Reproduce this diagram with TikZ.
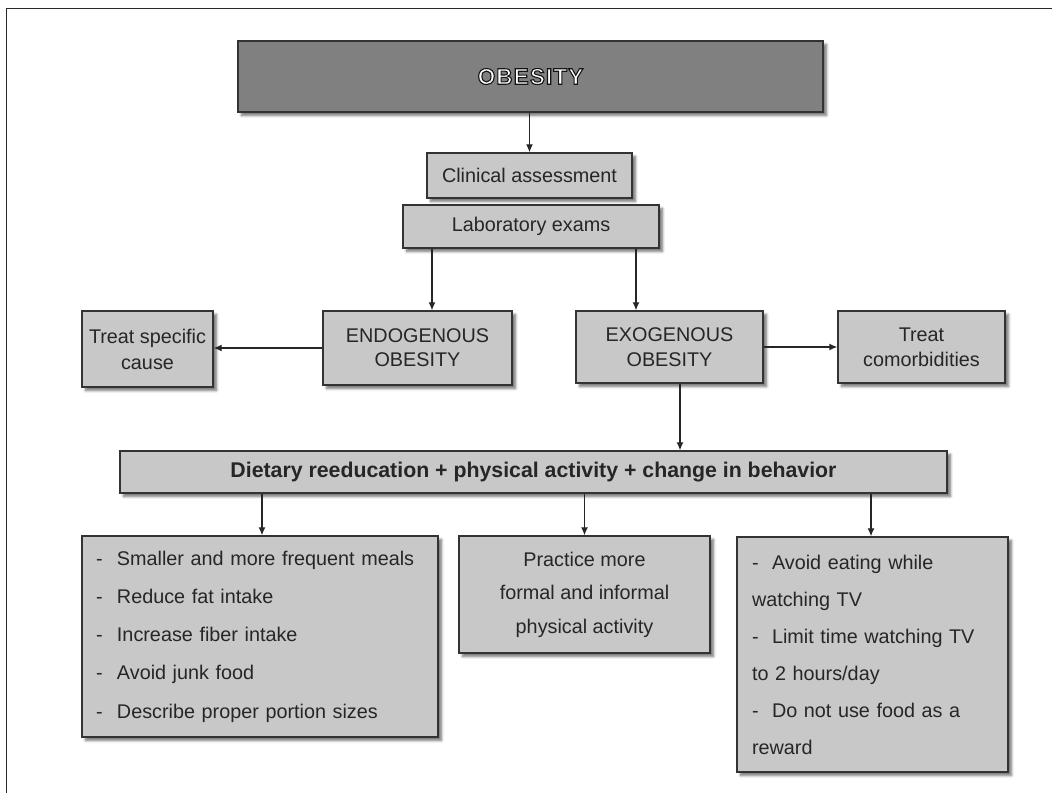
\documentclass[tikz,border=0pt]{standalone}
\usepackage{fontspec}
\setmainfont{Liberation Sans}
\newfontfamily\titlefont[LetterSpace=5, UprightFont={* Bold}]{Liberation Sans}
\usetikzlibrary{arrows.meta,shadows.blur,calc}
\definecolor{boxfill}{HTML}{C8C8C8}
\definecolor{titlefill}{HTML}{808080}
\definecolor{boxline}{HTML}{333333}
\definecolor{framecol}{HTML}{2A2A2A}
\tikzset{
  box/.style={draw=boxline, fill=boxfill, line width=1.4pt, inner sep=0pt,
    blur shadow={shadow xshift=3.5pt, shadow yshift=-3.5pt, shadow blur steps=6, shadow opacity=55, shadow blur radius=2.5pt},
    font={\fontsize{19.8}{24}\selectfont}, text=black!85},
  titlebox/.style={box, fill=titlefill},
  arr/.style={line width=1.2pt, draw=black!85, -{Latex[length=8pt,width=7pt]}},
}
\newcommand{\dsh}[1]{\makebox[#1][l]{-}}
\newcommand{\outlined}[1]{\color{white}\special{pdf:literal direct 2 Tr 1.1 w 0.08 0.08 0.08 RG}#1\special{pdf:literal direct 0 Tr}}
\begin{document}
\begin{tikzpicture}[x=1pt,y=-1pt]
\useasboundingbox (0,0) rectangle (1052,793);
\draw[line width=1.5pt, draw=framecol] (6.5,793) -- (6.5,8.5) -- (1052,8.5);

\node[titlebox, minimum width=585pt, minimum height=71pt] (obesity) at (530.5,76.5)
  {\titlefont\fontsize{22.5}{24}\selectfont\outlined{OBESITY}};

\node[box, minimum width=205pt, minimum height=45pt] (clinical) at (529.5,175.5) {Clinical assessment};
\node[box, minimum width=256pt, minimum height=43pt] (lab) at (531,226.5) {Laboratory exams};

\node[box, minimum width=189pt, minimum height=74pt, align=center, font={\fontsize{19.8}{24}\selectfont}] (endo) at (417.5,348) {ENDOGENOUS\\OBESITY};
\node[box, minimum width=131pt, minimum height=76pt, align=center, font={\fontsize{19.8}{26}\selectfont}] (cause) at (147.5,349) {Treat specific\\cause};
\node[box, minimum width=187pt, minimum height=72pt, align=center, font={\fontsize{19.8}{25}\selectfont}] (exo) at (669.5,347) {EXOGENOUS\\OBESITY};
\node[box, minimum width=167pt, minimum height=72pt, align=center, font={\fontsize{19.8}{25}\selectfont}] (comorb) at (921.5,347) {Treat\\comorbidities};

\node[box, minimum width=827pt, minimum height=42pt, font={\bfseries\fontsize{21.3}{24}\selectfont}] (diet) at (533.5,472)
  {Dietary reeducation + physical activity + change in behavior};

\node[box, minimum width=356pt, minimum height=201pt, align=left, text width=328pt, inner xsep=14pt, font={\fontsize{19.8}{38.2}\selectfont}] (meals) at (260,636.5)
  {\dsh{21pt}Smaller and more frequent meals\\
   \dsh{21pt}Reduce fat intake\\
   \dsh{21pt}Increase fiber intake\\
   \dsh{21pt}Avoid junk food\\
   \dsh{21pt}Describe proper portion sizes};

\node[box, minimum width=251pt, minimum height=117pt, align=center, font={\fontsize{19.8}{33.5}\selectfont}] (practice) at (584.5,594.5)
  {Practice more\\formal and informal\\physical activity};

\node[box, minimum width=271pt, minimum height=235pt, align=left, text width=241pt, inner xsep=15pt, font={\fontsize{19.8}{37}\selectfont}] (tv) at (872.5,654.5)
  {\dsh{20pt}Avoid eating while\\
   watching TV\\
   \dsh{20pt}Limit time watching TV\\
   to 2 hours/day\\
   \dsh{20pt}Do not use food as a\\
   reward};

\draw[arr] (clinical.north |- obesity.south) -- (clinical.north);
\draw[arr] ([xshift=-99pt]lab.south) -- ([xshift=-99pt]lab.south |- endo.north);
\draw[arr] ([xshift=105pt]lab.south) -- ([xshift=105pt]lab.south |- exo.north);
\draw[arr] (endo.west) -- (endo.west -| cause.east);
\draw[arr] (exo.east) -- (exo.east -| comorb.west);
\draw[arr] ([xshift=10.5pt]exo.south) -- ([xshift=10.5pt]exo.south |- diet.north);
\draw[arr] ([xshift=2pt]meals.north |- diet.south) -- ([xshift=2pt]meals.north);
\draw[arr] (practice.north |- diet.south) -- (practice.north);
\draw[arr] ([xshift=-1.5pt]tv.north |- diet.south) -- ([xshift=-1.5pt]tv.north);
\end{tikzpicture}
\end{document}
